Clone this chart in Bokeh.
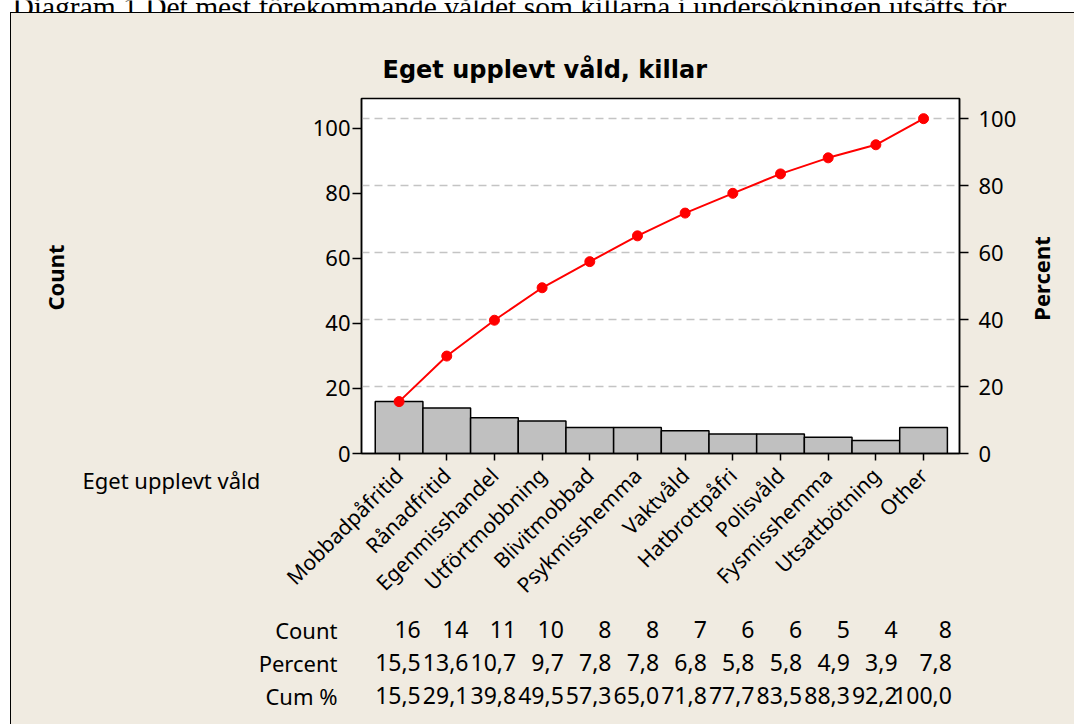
import math
from bokeh.plotting import figure
from bokeh.layouts import column, row
from bokeh.models import (Range1d, LinearAxis, FixedTicker, Grid, Title,
                          ColumnDataSource)
from bokeh.core.properties import value
from bokeh.embed import file_html
from bokeh.resources import INLINE

# ---------------- data ----------------
categories = ["Mobbadpåfritid", "Rånadfritid", "Egenmisshandel", "Utförtmobbning",
              "Blivitmobbad", "Psykmisshemma", "Vaktvåld", "Hatbrottpåfri",
              "Polisvåld", "Fysmisshemma", "Utsattbötning", "Other"]
counts = [16, 14, 11, 10, 8, 8, 7, 6, 6, 5, 4, 8]
percent = [15.5, 13.6, 10.7, 9.7, 7.8, 7.8, 6.8, 5.8, 5.8, 4.9, 3.9, 7.8]
cum_percent = [15.5, 29.1, 39.8, 49.5, 57.3, 65.0, 71.8, 77.7, 83.5, 88.3, 92.2, 100.0]
count_ticks = [0, 20, 40, 60, 80, 100]
percent_ticks = [0, 20, 40, 60, 80, 100]
row_labels = ["Count", "Percent", "Cum %"]

title_text = "Eget upplevt våld, killar"
caption_text = "Diagram 1 Det mest förekommande våldet som killarna i undersökningen utsätts för"
xlabel_text = "Eget upplevt våld"
ylabel_text = "Count"
y2label_text = "Percent"

FONT = "Noto Sans"
BG = "#F0EBE1"

# ---------------- page geometry (page pixels) ----------------
PAGE_R, PAGE_B = 1074, 724
BOX_L, BOX_T = 11, 13          # inside of the framed beige box
SPLIT_X1, SPLIT_X2 = 266, 1022  # left strip | chart | right strip
SPLIT_Y = 612                   # chart | table
FR_L, FR_R, FR_T, FR_B = 361, 959, 98, 453  # plot frame

x0, x1 = -0.788, len(categories) - 1 + 0.754
y_max = 109.2
total = sum(counts)
ppx = (FR_R - FR_L) / (x1 - x0)


def blank(w, h, xr, yr, bg=BG, bt=0, bb=0):
    f = figure(width=w, height=h, x_range=xr, y_range=yr, output_backend="svg",
               toolbar_location=None, x_axis_type=None, y_axis_type=None, title=None,
               min_border=0, min_border_left=0, min_border_right=0,
               min_border_top=bt, min_border_bottom=bb)
    f.background_fill_color = bg
    f.border_fill_color = bg
    f.outline_line_color = None
    f.xgrid.visible = False
    f.ygrid.visible = False
    return f


# ---------------- caption strip (cut off at the top, as in the source) ----------------
cap_h = BOX_T - 1
cap = blank(PAGE_R, cap_h, Range1d(0, PAGE_R), Range1d(0, cap_h), bg="white")
cap.text(x=[12], y=[cap_h - 6.7], text=[caption_text], text_font=value("Liberation Serif"),
         text_font_size="29.5px", text_baseline="alphabetic", text_align="left",
         text_color="black")

# ---------------- left strip (frame aligned with the chart frame) ----------------
lw, lh = SPLIT_X1 - BOX_L, SPLIT_Y - BOX_T
left = blank(lw, lh, Range1d(BOX_L, SPLIT_X1), Range1d(-FR_B, -FR_T),
             bt=FR_T - BOX_T, bb=SPLIT_Y - FR_B)
left.text(x=[54], y=[-277], text=[ylabel_text], angle=math.pi / 2,
          text_font=value(FONT), text_font_size="22px", text_font_style="bold",
          text_align="center", text_baseline="middle", text_color="black")
left.add_layout(Title(text=xlabel_text, align="left", offset=82 - BOX_L, standoff=19,
                      text_font=FONT, text_font_size="22px", text_font_style="normal",
                      text_color="black"), "below")

# ---------------- main chart ----------------
mw, mh = SPLIT_X2 - SPLIT_X1, SPLIT_Y - BOX_T
p = figure(width=mw, height=mh, output_backend="svg", toolbar_location=None,
           x_range=Range1d(x0, x1), y_range=Range1d(0, y_max),
           min_border_left=FR_L - SPLIT_X1, min_border_right=SPLIT_X2 - FR_R,
           min_border_top=FR_T - BOX_T, min_border_bottom=SPLIT_Y - FR_B)
p.extra_y_ranges = {"pct": Range1d(0, y_max / total * 100)}
p.border_fill_color = BG
p.background_fill_color = "white"
p.outline_line_color = "black"
p.outline_line_width = 1.5
p.xgrid.visible = False
p.ygrid.visible = False

p.title = Title(text=title_text, align="left", offset=382 - FR_L, standoff=30,
                text_font="DejaVu Sans", text_font_size="24px", text_font_style="bold",
                text_color="black")

xs = list(range(len(categories)))

grid = Grid(dimension=1, ticker=FixedTicker(ticks=percent_ticks[1:]), y_range_name="pct",
            grid_line_color="#C4C4C4", grid_line_dash="8 5", grid_line_width=1.5)
p.add_layout(grid)

p.vbar(x=xs, top=counts, width=1.0, fill_color="#C0C0C0", line_color="black",
       line_width=1.5)
p.line(xs, cum_percent, y_range_name="pct", line_color="#FF0000", line_width=2)
p.scatter(xs, cum_percent, y_range_name="pct", size=10, fill_color="#FF0000",
          line_color="#FF0000")

xa = p.xaxis[0]
xa.ticker = FixedTicker(ticks=xs)
xa.major_label_overrides = {i: c for i, c in enumerate(categories)}
xa.major_label_orientation = math.pi / 4
xa.major_tick_out = 7
xa.major_tick_in = 0
xa.major_label_standoff = 11

ya = p.yaxis[0]
ya.ticker = FixedTicker(ticks=count_ticks)
ya.major_tick_out = 9
ya.major_tick_in = 0
ya.major_label_standoff = 2

ra = LinearAxis(y_range_name="pct", ticker=FixedTicker(ticks=percent_ticks))
ra.major_tick_out = 9
ra.major_tick_in = 0
ra.major_label_standoff = 10
p.add_layout(ra, "right")

for ax in (xa, ya, ra):
    ax.major_label_text_font = FONT
    ax.major_label_text_font_size = "22px"
    ax.major_label_text_color = "black"
    ax.axis_line_width = 1.5
    ax.axis_line_color = "black"
    ax.major_tick_line_width = 1.5
    ax.major_tick_line_color = "black"
    ax.minor_tick_line_color = None
xa.major_label_text_font_size = "21px"

# ---------------- right strip (frame aligned with the chart frame) ----------------
rw, rh = PAGE_R - SPLIT_X2, SPLIT_Y - BOX_T
right = blank(rw, rh, Range1d(SPLIT_X2, PAGE_R), Range1d(-FR_B, -FR_T),
              bt=FR_T - BOX_T, bb=SPLIT_Y - FR_B)
right.text(x=[1040], y=[-278], text=[y2label_text], angle=math.pi / 2,
           text_font=value(FONT), text_font_size="22px", text_font_style="bold",
           text_align="center", text_baseline="middle", text_color="black")

# ---------------- table ----------------
tw, th = PAGE_R - BOX_L, PAGE_B - SPLIT_Y
to_data_x = lambda px: x0 + (px - FR_L) / ppx
table = blank(tw, th, Range1d(to_data_x(BOX_L), to_data_x(PAGE_R)), Range1d(0, th))
ty = lambda py: PAGE_B - py
row_y = [ty(629), ty(662), ty(695)]
fmt = lambda v: f"{v:.1f}".replace(".", ",")
col_x = [x + 0.455 for x in xs]
col_x[-1] += 0.14
src = ColumnDataSource(dict(
    x=col_x,
    c=[str(c) for c in counts],
    pc=[fmt(v) for v in percent],
    cp=[fmt(v) for v in cum_percent],
))
for field, yy in zip(["c", "pc", "cp"], row_y):
    table.text(x="x", y=yy, text=field, source=src, text_align="right",
               text_baseline="middle", text_font=value(FONT),
               text_font_size="23px", text_color="black")
table.text(x=[to_data_x(337)] * 3, y=row_y, text=row_labels, text_align="right",
           text_baseline="middle", text_font=value(FONT), text_font_size="22px",
           text_color="black")

body = column(row(left, p, right, spacing=0), table, spacing=0)
body.styles = {"margin-left": "10px", "border-left": "1px solid black",
               "border-top": "1px solid black", "background-color": BG}
layout = column(cap, body, spacing=0)

open("out.html", "w").write(file_html(layout, INLINE))
